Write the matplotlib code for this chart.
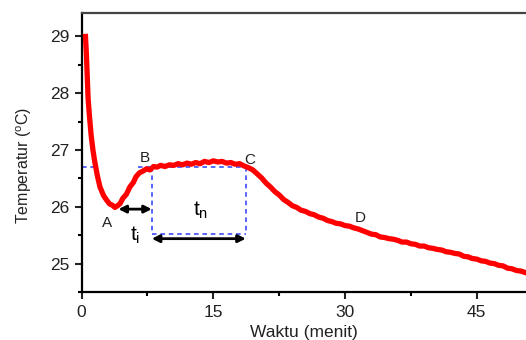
import matplotlib
matplotlib.use('Agg')
import matplotlib.pyplot as plt

plt.rcParams.update({
    'font.family': ['Liberation Sans', 'DejaVu Sans'],
    'mathtext.fontset': 'custom',
    'mathtext.rm': 'Liberation Sans',
    'mathtext.it': 'Liberation Sans',
})

# temperature curve (minutes, deg C)
waktu = [0.45, 0.55, 0.65, 0.75, 0.9, 1.1, 1.3, 1.5, 1.8, 2.1, 2.5, 2.85, 3.2, 3.5,
         3.8, 4.1, 4.4, 4.7, 5.1, 5.5, 5.9, 6.2, 6.6, 7.0, 7.4, 7.8, 8.2, 8.6,
         9.0, 9.5, 10.0, 10.5, 11.0, 11.5, 12.0, 12.5, 13.0, 13.5, 14.0, 14.5,
         15.0, 15.5, 16.0, 16.5, 17.0, 17.5, 18.0, 18.5, 19.0, 19.5, 20.0, 20.5,
         21.0, 21.5, 22.0, 22.5, 23.0, 23.5, 24.0, 24.5, 25.0, 25.5, 26.0, 26.5,
         27.0, 27.5, 28.0, 28.5, 29.0, 29.5, 30.0, 30.5, 31.0, 31.5, 32.0, 32.5,
         33.0, 33.5, 34.0, 34.5, 35.0, 35.5, 36.0, 36.5, 37.0, 37.5, 38.0, 38.5,
         39.0, 39.5, 40.0, 40.5, 41.0, 41.5, 42.0, 42.5, 43.0, 43.5, 44.0, 44.5,
         45.0, 45.5, 46.0, 46.5, 47.0, 47.5, 48.0, 48.5, 49.0, 49.5, 50.0, 50.6]
suhu = [29.0, 28.7, 28.3, 27.9, 27.6, 27.25, 27.0, 26.8, 26.55, 26.35, 26.2, 26.12, 26.05, 26.03,
        25.99, 26.02, 26.06, 26.15, 26.22, 26.35, 26.43, 26.53, 26.6, 26.63, 26.67, 26.65, 26.71, 26.7,
        26.73, 26.71, 26.74, 26.73, 26.76, 26.74, 26.77, 26.75, 26.78, 26.76, 26.8, 26.78,
        26.81, 26.79, 26.8, 26.77, 26.78, 26.75, 26.76, 26.72, 26.69, 26.65, 26.58, 26.51,
        26.42, 26.35, 26.27, 26.21, 26.13, 26.08, 26.02, 25.99, 25.94, 25.92, 25.88, 25.86,
        25.82, 25.8, 25.76, 25.74, 25.71, 25.7, 25.67, 25.66, 25.63, 25.61, 25.58, 25.55,
        25.52, 25.51, 25.47, 25.46, 25.44, 25.43, 25.41, 25.38, 25.38, 25.35, 25.34, 25.31,
        25.31, 25.28, 25.27, 25.25, 25.24, 25.21, 25.2, 25.18, 25.17, 25.13, 25.12, 25.09,
        25.08, 25.05, 25.04, 25.01, 25.0, 24.97, 24.96, 24.92, 24.91, 24.88, 24.87, 24.84]

# characteristic points
titik_label = ['A', 'B', 'C', 'D']
titik_x = [2.9, 7.2, 19.2, 31.7]
titik_y = [25.72, 26.86, 26.83, 25.81]

t_a, t_b, t_c = 4.2, 8.0, 18.7      # A, B, C times
y_plat, y_a, y_bawah = 26.71, 25.96, 25.52
y_panah_n = 25.44

fig = plt.figure(figsize=(5.26, 3.4), dpi=100)
ax = fig.add_axes([0.155, 0.141, 0.845, 0.822])

# dashed guide lines
kw = dict(color='#2a3cff', ls=(0, (3, 2.5)), lw=1.1, zorder=1)
ax.plot([0, 1.8], [y_plat, y_plat], **kw)
ax.plot([6.4, t_b], [y_plat, y_plat], **kw)
ax.plot([t_b, t_c], [y_plat, y_plat], **kw)
ax.plot([t_b, t_b], [y_plat, y_bawah], **kw)
ax.plot([t_c, t_c], [y_plat, y_bawah], **kw)
ax.plot([t_b, t_c], [y_bawah, y_bawah], **kw)

ax.plot(waktu, suhu, color='#ff0000', lw=3.8, zorder=3, solid_joinstyle='round')

# arrows
ap = dict(arrowstyle='<|-|>', color='black', lw=2.0, mutation_scale=11, shrinkA=0, shrinkB=0)
ax.annotate('', xy=(t_a, y_a), xytext=(t_b, y_a), arrowprops=ap, zorder=4)
ax.annotate('', xy=(t_b, y_panah_n), xytext=(t_c, y_panah_n), arrowprops=ap, zorder=4)

for lab, x, y in zip(titik_label, titik_x, titik_y):
    ax.text(x, y, lab, fontsize=11, ha='center', va='center', color='#222222')
ax.text(13.5, 25.94, r'$\mathregular{t_n}$', fontsize=15, ha='center', va='center')
ax.text(6.1, 25.5, r'$\mathregular{t_i}$', fontsize=15, ha='center', va='center')

ax.set_xlim(0, 50.6)
ax.set_ylim(24.5, 29.42)
ax.set_xticks([0, 15, 30, 45])
ax.set_xticks([7.5, 22.5, 37.5], minor=True)
ax.set_yticks([25, 26, 27, 28, 29])
ax.set_yticks([24.5, 25.5, 26.5, 27.5, 28.5], minor=True)
ax.tick_params(which='major', direction='out', length=5, width=1.5, labelsize=12.5,
               colors='#222222', pad=4)
ax.tick_params(which='minor', direction='out', length=3, width=1.5)

ax.spines['right'].set_visible(False)
for s in ['left', 'bottom']:
    ax.spines[s].set_linewidth(1.6)
    ax.spines[s].set_color('black')
ax.spines['top'].set_linewidth(1.6)
ax.spines['top'].set_color('#444444')

ax.set_xlabel('Waktu (menit)', fontsize=12.5, labelpad=4, color='#222222')
ax.set_ylabel(r'Temperatur ($\mathregular{^o}$C)', fontsize=11.5, color='#222222')
ax.yaxis.set_label_coords(-0.107, 0.454)

fig.savefig('out.png', dpi=100)
